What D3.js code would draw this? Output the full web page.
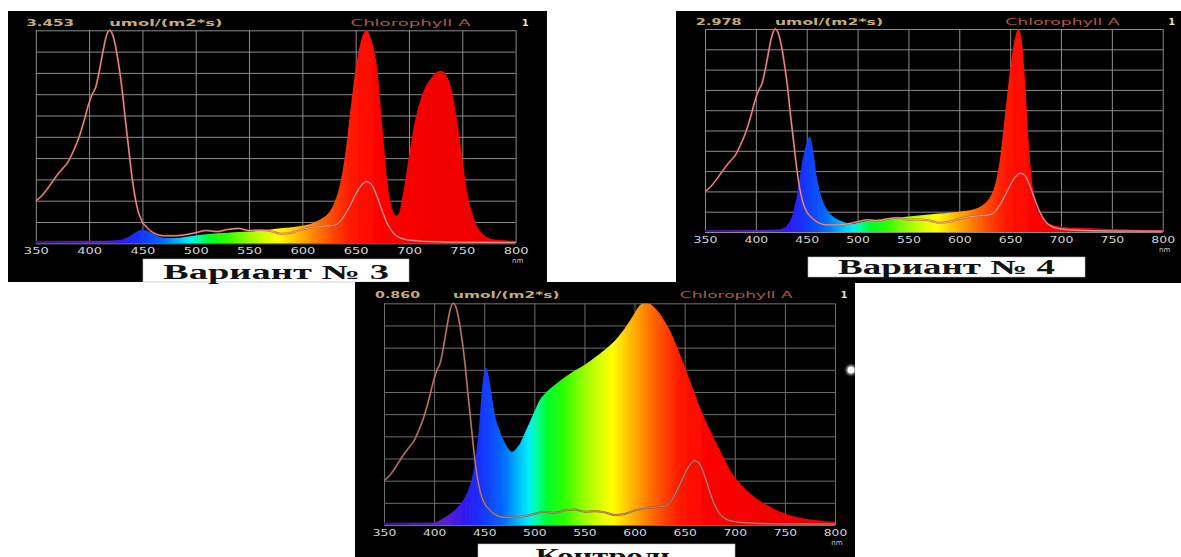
<!DOCTYPE html>
<html>
<head>
<meta charset="utf-8">
<script src="https://cdn.jsdelivr.net/npm/d3@7"></script>
<style>
  html, body { margin: 0; padding: 0; background: #fff; }
  svg { display: block; }
</style>
</head>
<body>
<svg id="chart" width="1181" height="557"></svg>
<script>
// Spectral photon flux density, umol/(m2*s), per wavelength (nm)
const wavelengths3 = [350,360,370,380,390,400,410,420,430,435,440,445,450,455,460,465,470,480,490,500,510,520,530,540,550,560,570,580,590,600,605,610,615,620,625,630,635,640,645,650,655,660,665,670,675,680,685,688,690,695,700,705,710,715,720,725,730,735,740,745,750,755,760,765,770,775,780,790,800];
const variant3 = [0.041,0.041,0.041,0.041,0.041,0.041,0.041,0.045,0.059,0.086,0.138,0.190,0.218,0.200,0.155,0.110,0.090,0.086,0.104,0.128,0.145,0.162,0.173,0.183,0.193,0.207,0.224,0.242,0.259,0.283,0.304,0.331,0.369,0.421,0.501,0.656,0.932,1.416,2.141,2.831,3.280,3.453,3.280,2.866,1.899,0.967,0.518,0.449,0.466,0.863,1.416,1.934,2.279,2.521,2.659,2.762,2.797,2.728,2.486,2.003,1.381,0.794,0.449,0.242,0.138,0.086,0.062,0.048,0.041];

const wavelengths4 = [350,360,370,380,390,400,410,420,425,430,435,440,445,450,453,456,460,465,470,475,480,485,490,495,500,510,520,530,540,550,560,570,580,590,600,610,615,620,625,630,635,640,645,650,655,658,661,665,668,672,676,680,685,690,700,710,720,740,760,780,800];
const variant4 = [0.030,0.030,0.030,0.030,0.030,0.030,0.030,0.036,0.045,0.089,0.208,0.506,0.983,1.310,1.400,1.221,0.804,0.491,0.328,0.238,0.188,0.155,0.131,0.119,0.131,0.164,0.185,0.200,0.211,0.226,0.241,0.256,0.271,0.283,0.298,0.319,0.337,0.366,0.417,0.506,0.685,1.072,1.727,2.382,2.859,2.978,2.859,2.144,1.370,0.685,0.357,0.238,0.155,0.113,0.077,0.063,0.057,0.048,0.039,0.030,0.024];

const wavelengthsControl = [350,360,370,380,390,400,405,410,415,420,425,430,435,440,445,448,451,454,457,460,465,470,475,478,482,486,490,495,500,505,510,520,530,540,550,560,570,580,590,600,605,610,615,620,625,630,635,640,645,650,655,660,665,670,675,680,685,690,695,700,705,710,715,720,730,740,750,760,770,780,790,800];
const control = [0.010,0.010,0.010,0.010,0.010,0.010,0.017,0.028,0.041,0.056,0.076,0.103,0.146,0.224,0.387,0.533,0.611,0.585,0.516,0.439,0.370,0.323,0.292,0.284,0.297,0.318,0.353,0.396,0.439,0.482,0.507,0.542,0.572,0.598,0.621,0.649,0.679,0.714,0.761,0.821,0.851,0.860,0.858,0.843,0.821,0.791,0.757,0.714,0.666,0.615,0.562,0.511,0.459,0.413,0.370,0.331,0.292,0.254,0.215,0.185,0.163,0.142,0.123,0.108,0.082,0.060,0.045,0.033,0.024,0.019,0.015,0.013];

// Chlorophyll A reference absorption, relative units (peak = 1)
const chlWavelengths = [350,355,360,365,370,375,380,385,390,395,400,403,406,410,413,416,419,422,425,428,431,434,437,440,443,446,450,455,460,470,480,490,500,510,520,530,540,550,560,570,580,590,600,610,620,630,635,640,645,650,655,660,665,670,675,680,685,690,700,720,750,800];
const chlorophyllA = [0.20,0.22,0.25,0.285,0.32,0.35,0.38,0.43,0.49,0.57,0.66,0.70,0.73,0.82,0.90,0.97,1.0,0.98,0.92,0.83,0.72,0.58,0.45,0.32,0.22,0.15,0.10,0.07,0.05,0.035,0.035,0.04,0.05,0.06,0.055,0.065,0.07,0.06,0.062,0.058,0.045,0.05,0.065,0.075,0.08,0.085,0.10,0.135,0.18,0.23,0.27,0.29,0.275,0.22,0.15,0.09,0.05,0.03,0.015,0.008,0.005,0.004];

const tickLabels = [350,400,450,500,550,600,650,700,750,800];
const panelTitles = ["Вариант № 3", "Вариант № 4", "Контроль"];
const fluxUnit = "umol/(m2*s)";
const pigmentName = "Chlorophyll A";
const channelNo = "1";

// Colour ramp used to paint the spectrum by wavelength
const spectrumStops = [
  [350,"#3c1478"],[380,"#4a1a9c"],[410,"#5a24c8"],[430,"#3418f0"],[445,"#1830ff"],
  [460,"#0a50ff"],[472,"#0078ff"],[485,"#00c0ff"],[495,"#00f0f0"],[503,"#00ff9a"],
  [512,"#00ff30"],[530,"#30ff00"],[548,"#90ff00"],[565,"#d8ff00"],[578,"#ffff00"],
  [590,"#ffd000"],[603,"#ffa000"],[618,"#ff6a00"],[632,"#ff3c00"],[645,"#ff1a00"],
  [660,"#ff0800"],[700,"#f80000"],[800,"#e80000"]
];

const panels = [
  { title: panelTitles[0], wl: wavelengths3, flux: variant3,
    frame: [8, 11, 539, 271], plot: [35.8, 515.6, 30.3, 243.3], headerY: 23,
    box: [143, 259, 266, 23], titleY: 278.5, titleW: 226,
    grid: "#8c8c8c", chlOuter: "#c44a4a", chlInner: "#ffcfc6" },
  { title: panelTitles[1], wl: wavelengths4, flux: variant4,
    frame: [676, 11, 505, 272], plot: [705, 1162.7, 29, 232], headerY: 22.7,
    box: [808, 257, 277, 20], titleY: 274, titleW: 217,
    grid: "#8c8c8c", chlOuter: "#c44a4a", chlInner: "#ffcfc6" },
  { title: panelTitles[2], wl: wavelengthsControl, flux: control,
    frame: [355, 282, 500, 275], plot: [384, 835, 303.3, 525], headerY: 295,
    box: [478, 544, 257, 20], titleY: 563, titleW: 142,
    grid: "#6e6e6e", chlOuter: "#8e4c42", chlInner: "#dba497" }
];

const svg = d3.select("#chart");
const defs = svg.append("defs");

defs.append("filter").attr("id", "soft")
  .append("feGaussianBlur").attr("stdDeviation", 0.45);
defs.append("filter").attr("id", "glow").attr("x", "-1").attr("y", "-1").attr("width", "3").attr("height", "3")
  .append("feGaussianBlur").attr("stdDeviation", 1.4);

panels.forEach((p, i) => {
  const [fx, fy, fw, fh] = p.frame;
  const [l, r, t, b] = p.plot;
  const g = svg.append("g");

  g.append("rect").attr("x", fx).attr("y", fy).attr("width", fw).attr("height", fh).attr("fill", "#000");

  const x = d3.scaleLinear().domain([350, 800]).range([l, r]);
  const peak = d3.max(p.flux);
  const y = d3.scaleLinear().domain([0, peak]).range([b, t]);
  const yChl = d3.scaleLinear().domain([0, 1]).range([b, t]);

  // grid: vertical lines at the wavelength ticks, ten horizontal divisions
  const vGrid = g.append("g").attr("transform", `translate(0,${b})`)
    .call(d3.axisBottom(x).tickValues(tickLabels).tickSize(-(b - t)).tickFormat(""));
  vGrid.select(".domain").remove();
  vGrid.selectAll("line").attr("stroke", p.grid).attr("stroke-width", 1);

  const hGrid = g.append("g").attr("transform", `translate(${l},0)`)
    .call(d3.axisLeft(y).tickValues(d3.range(11).map(k => peak * k / 10)).tickSize(-(r - l)).tickFormat(""));
  hGrid.select(".domain").remove();
  hGrid.selectAll("line").attr("stroke", p.grid).attr("stroke-width", 1);

  // spectrum fill coloured by wavelength
  const grad = defs.append("linearGradient").attr("id", `spec${i}`)
    .attr("gradientUnits", "userSpaceOnUse")
    .attr("x1", x(350)).attr("x2", x(800)).attr("y1", 0).attr("y2", 0);
  grad.selectAll("stop").data(spectrumStops).join("stop")
    .attr("offset", d => (d[0] - 350) / 450)
    .attr("stop-color", d => d[1]);

  const series = p.wl.map((w, k) => [w, p.flux[k]]);
  const area = d3.area()
    .x(d => x(d[0])).y0(b).y1(d => y(d[1]))
    .curve(d3.curveMonotoneX);
  g.append("path").datum(series).attr("d", area)
    .attr("fill", `url(#spec${i})`).attr("filter", "url(#soft)");

  // chlorophyll A absorption overlay
  const chl = chlWavelengths.map((w, k) => [w, chlorophyllA[k]]);
  const line = d3.line().x(d => x(d[0])).y(d => yChl(d[1])).curve(d3.curveMonotoneX);
  g.append("path").datum(chl).attr("d", line)
    .attr("fill", "none").attr("stroke", p.chlOuter).attr("stroke-width", 2).attr("stroke-opacity", 0.85);
  g.append("path").datum(chl).attr("d", line)
    .attr("fill", "none").attr("stroke", p.chlInner).attr("stroke-width", 0.8).attr("stroke-opacity", 0.8);

  // wavelength axis labels
  const ax = g.append("g").attr("transform", `translate(0,${b})`)
    .call(d3.axisBottom(x).tickValues(tickLabels).tickSize(0).tickPadding(5));
  ax.select(".domain").remove();
  ax.selectAll("text")
    .attr("fill", "#d4d4d4")
    .attr("font-family", "DejaVu Sans, sans-serif")
    .attr("font-size", 8.5)
    .attr("textLength", (r - l) * 0.052)
    .attr("lengthAdjust", "spacingAndGlyphs");
  g.append("text").attr("x", x(800) + 2).attr("y", b + 20)
    .attr("text-anchor", "middle").attr("fill", "#c8c8c8")
    .attr("font-family", "DejaVu Sans, sans-serif").attr("font-size", 7)
    .text("nm");

  // header row: peak value, unit, reference pigment, channel
  const w = r - l;
  const head = (tx, xx, width, color, weight) =>
    g.append("text").attr("x", xx).attr("y", p.headerY).attr("dominant-baseline", "middle")
      .attr("fill", color).attr("font-family", "DejaVu Sans, sans-serif")
      .attr("font-size", 9.5).attr("font-weight", weight || "normal")
      .attr("textLength", width).attr("lengthAdjust", "spacingAndGlyphs")
      .text(tx);
  head(d3.format(".3f")(peak), l - w * 0.02, w * 0.1, "#c4ac7c", "bold");
  head(fluxUnit, l + w * 0.153, w * 0.236, "#c4ac7c", "bold");
  head(pigmentName, l + w * 0.656, w * 0.25, "#ad5a48");
  g.append("text").attr("x", l + w * 1.02).attr("y", p.headerY).attr("dominant-baseline", "middle")
    .attr("text-anchor", "middle").attr("fill", "#ece4d2").attr("font-family", "DejaVu Sans, sans-serif")
    .attr("font-size", 9.5).attr("font-weight", "bold").text(channelNo);

  // caption box
  const [bx, by, bw, bh] = p.box;
  g.append("rect").attr("x", bx).attr("y", by).attr("width", bw).attr("height", bh)
    .attr("fill", "#fff").attr("stroke", "#b8b8b8").attr("stroke-width", 0.6);
  g.append("text").attr("x", bx + bw / 2).attr("y", p.titleY)
    .attr("text-anchor", "middle").attr("fill", "#111")
    .attr("font-family", "Liberation Serif, Times New Roman, serif")
    .attr("font-weight", "bold").attr("font-size", 20)
    .attr("textLength", p.titleW).attr("lengthAdjust", "spacingAndGlyphs")
    .text(p.title);
});

// small bright glint on the right edge of the lower panel
const clip = defs.append("clipPath").attr("id", "edgeClip");
clip.append("rect").attr("x", 355).attr("y", 282).attr("width", 500).attr("height", 275);
svg.append("circle").attr("cx", 851).attr("cy", 370).attr("r", 4.5)
  .attr("fill", "#f4f4f4").attr("filter", "url(#glow)").attr("clip-path", "url(#edgeClip)");
svg.append("circle").attr("cx", 851).attr("cy", 370).attr("r", 3.2)
  .attr("fill", "#ffffff").attr("clip-path", "url(#edgeClip)");
</script>
</body>
</html>
